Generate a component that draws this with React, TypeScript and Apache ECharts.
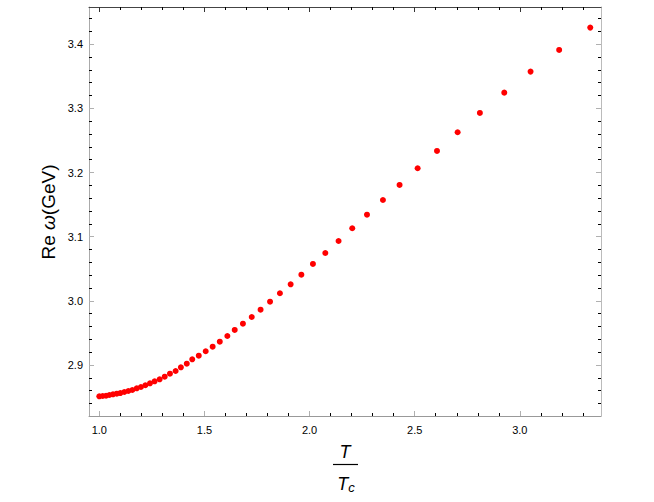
import React, { useEffect, useRef } from "react";
import * as echarts from "echarts";

const tRatio = [
  1.0, 1.016, 1.032, 1.048, 1.065, 1.083, 1.1, 1.119, 1.138, 1.157, 1.178,
  1.198, 1.219, 1.241, 1.263, 1.287, 1.311, 1.336, 1.363, 1.388, 1.416, 1.442,
  1.473, 1.506, 1.539, 1.573, 1.609, 1.644, 1.683, 1.725, 1.767, 1.812, 1.859,
  1.91, 1.961, 2.016, 2.075, 2.138, 2.203, 2.273, 2.349, 2.428, 2.514, 2.606,
  2.704, 2.81, 2.926, 3.051, 3.187, 3.335,
];
const reOmega = [
  2.8512, 2.8517, 2.8521, 2.8532, 2.8543, 2.8553, 2.8563, 2.8579, 2.8595,
  2.861, 2.8637, 2.8657, 2.8684, 2.8715, 2.8746, 2.8777, 2.8818, 2.8864,
  2.8906, 2.8964, 2.902, 2.9089, 2.9145, 2.9214, 2.9285, 2.9363, 2.9452,
  2.9546, 2.9644, 2.9748, 2.9862, 2.9987, 3.0118, 3.0258, 3.0408, 3.0575,
  3.0746, 3.0933, 3.1131, 3.1343, 3.1572, 3.1806, 3.2067, 3.2336, 3.2628,
  3.2929, 3.3245, 3.3573, 3.3911, 3.4259,
];

const xMajor = [1.0, 1.5, 2.0, 2.5, 3.0];
const xMinor = [
  1.1, 1.2, 1.3, 1.4, 1.6, 1.7, 1.8, 1.9, 2.1, 2.2, 2.3, 2.4, 2.6, 2.7, 2.8,
  2.9, 3.1, 3.2, 3.3,
];
const yMajor = [2.9, 3.0, 3.1, 3.2, 3.3, 3.4];
const yMinor = [
  2.84, 2.86, 2.88, 2.92, 2.94, 2.96, 2.98, 3.02, 3.04, 3.06, 3.08, 3.12, 3.14,
  3.16, 3.18, 3.22, 3.24, 3.26, 3.28, 3.32, 3.34, 3.36, 3.38, 3.42, 3.44,
];

const X_MIN = 0.951;
const X_MAX = 3.386;
const Y_MIN = 2.8205;
const Y_MAX = 3.458;

const FONT = "'Liberation Sans', Arial, Helvetica, sans-serif";

function makeAxis(
  kind: "x" | "y",
  position: string,
  ticks: number[],
  tickLen: number,
  tickColor: string,
  line: string | null,
  labels: number[] | null
): any {
  return {
    type: "value",
    position,
    min: kind === "x" ? X_MIN : Y_MIN,
    max: kind === "x" ? X_MAX : Y_MAX,
    axisLine: line
      ? { show: true, onZero: false, lineStyle: { color: line, width: 1 } }
      : { show: false },
    axisTick: {
      show: true,
      inside: true,
      length: tickLen,
      customValues: ticks,
      lineStyle: { color: tickColor, width: 1 },
    },
    axisLabel: labels
      ? {
          show: true,
          customValues: labels,
          formatter: (v: number) => v.toFixed(1),
          color: "#000",
          fontSize: 11,
          fontFamily: FONT,
          margin: kind === "x" ? 8 : 6,
        }
      : { show: false },
    splitLine: { show: false },
    minorTick: { show: false },
  };
}

export default function App() {
  const ref = useRef<HTMLDivElement>(null);
  useEffect(() => {
    if (!ref.current) return;
    const chart = echarts.init(ref.current, null, { renderer: "svg" });
    const data = tRatio.map((t, i) => [t, reOmega[i]]);
    chart.setOption({
      animation: false,
      backgroundColor: "#fff",
      grid: { left: 89, top: 7, width: 512, height: 409, containLabel: false },
      xAxis: [
        makeAxis("x", "bottom", xMajor, 5, "#b0b0b0", "#999", xMajor),
        makeAxis("x", "bottom", xMinor, 3, "#000", null, null),
        makeAxis("x", "top", xMajor, 5, "#333", "#444", null),
        makeAxis("x", "top", xMinor, 3, "#000", null, null),
      ],
      yAxis: [
        makeAxis("y", "left", yMajor, 5, "#b0b0b0", "#aaa", yMajor),
        makeAxis("y", "left", yMinor, 3, "#000", null, null),
        makeAxis("y", "right", yMajor, 5, "#b0b0b0", "#bbb", null),
        makeAxis("y", "right", yMinor, 3, "#000", null, null),
      ],
      series: [
        {
          type: "scatter",
          xAxisIndex: 0,
          yAxisIndex: 0,
          data,
          symbol: "circle",
          symbolSize: 6,
          itemStyle: { color: "#ff0000", opacity: 1 },
        },
      ],
      graphic: [
        {
          type: "text",
          x: 48,
          y: 212,
          rotation: Math.PI / 2,
          style: {
            text: "Re {i|ω}(GeV)",
            fontSize: 19,
            fontFamily: FONT,
            fill: "#000",
            align: "center",
            verticalAlign: "middle",
            rich: {
              i: { fontStyle: "italic", fontSize: 19, fontFamily: FONT },
            },
          },
        },
        {
          type: "text",
          x: 345,
          y: 452,
          style: {
            text: "T",
            fontSize: 18,
            fontStyle: "italic",
            fontFamily: FONT,
            fill: "#000",
            align: "center",
            verticalAlign: "middle",
          },
        },
        {
          type: "line",
          shape: { x1: 333, y1: 464.5, x2: 358, y2: 464.5 },
          style: { stroke: "#000", lineWidth: 1.2 },
        },
        {
          type: "text",
          x: 346,
          y: 484,
          style: {
            text: "{t|T}{s|c}",
            fill: "#000",
            align: "center",
            verticalAlign: "middle",
            rich: {
              t: {
                fontSize: 18,
                fontStyle: "italic",
                fontFamily: FONT,
                verticalAlign: "middle",
              },
              s: {
                fontSize: 13,
                fontStyle: "italic",
                fontFamily: FONT,
                verticalAlign: "bottom",
                padding: [6, 0, 0, 0],
              },
            },
          },
        },
      ],
    });
    return () => chart.dispose();
  }, []);
  return (
    <div
      ref={ref}
      style={{ position: "fixed", left: 0, top: 0, width: 654, height: 502 }}
    />
  );
}
